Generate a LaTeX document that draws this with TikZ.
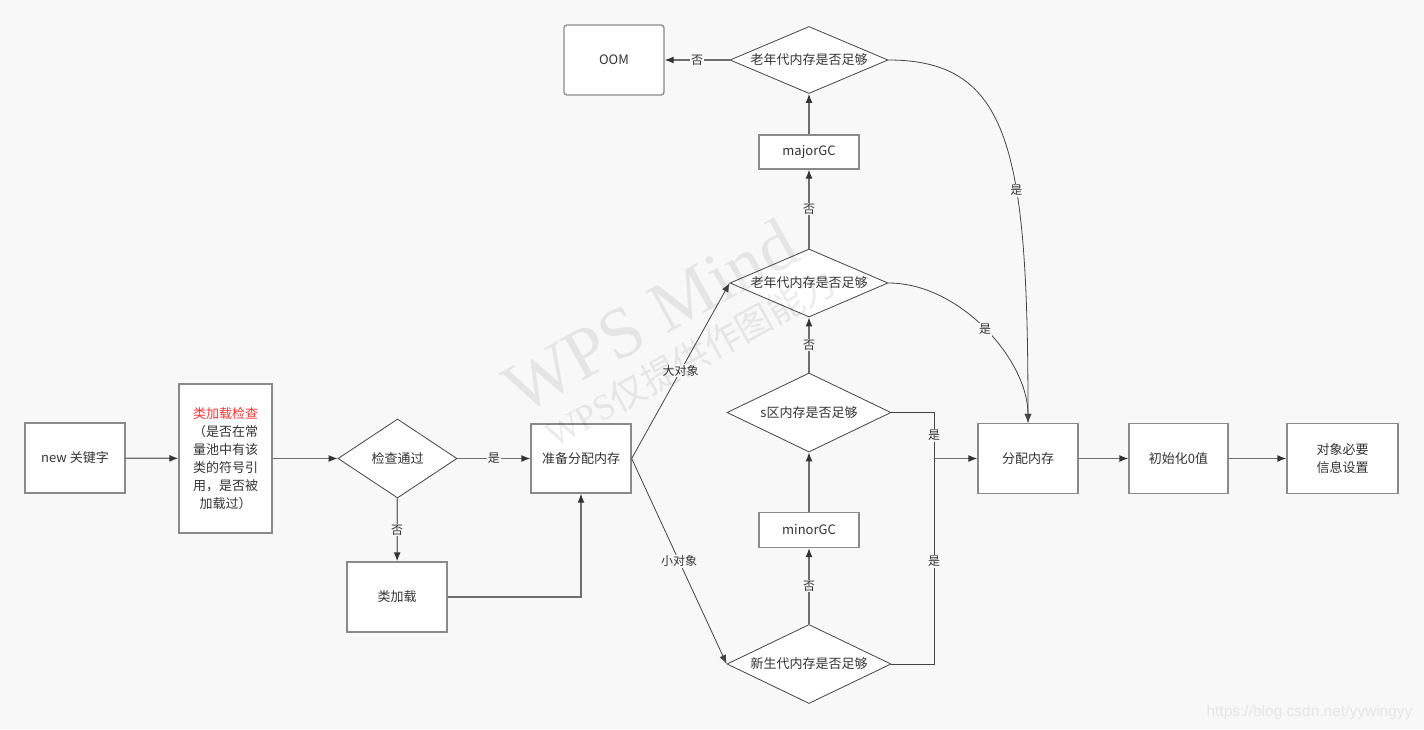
\documentclass[tikz,border=0pt]{standalone}
\usepackage{fontspec}
\setmainfont{Noto Sans CJK SC}
\newfontfamily\wmserif{Liberation Serif}
\newfontfamily\urlfont{Liberation Sans}
\usetikzlibrary{arrows.meta,shapes.geometric}
\definecolor{bg}{HTML}{F8F8F8}
\definecolor{boxline}{HTML}{8A8A8A}
\definecolor{dialine}{HTML}{444444}
\definecolor{txt}{HTML}{333333}
\definecolor{conncol}{HTML}{6E6E6E}
\definecolor{redtxt}{HTML}{FF3333}
\definecolor{wm}{HTML}{E6E6E6}
\tikzset{
  x=1pt, y=-1pt,
  every node/.style={text=txt, font=\fontsize{13}{18}\selectfont},
  box/.style={draw=boxline, line width=1.3pt, fill=white, inner sep=2pt, align=center},
  dia/.style={diamond, draw=dialine, line width=0.8pt, fill=white, inner sep=0pt, shape aspect=2.2},
  conn/.style={draw=conncol, line width=1.3pt, arrows={-{Latex[length=9pt,width=7pt,color=txt]}}},
  thinc/.style={draw=dialine, line width=0.8pt, -{Latex[length=9pt,width=7pt]}},
  thinl/.style={draw=dialine, line width=0.8pt},
  lbl/.style={fill=bg, inner sep=1pt, font=\fontsize{12}{14}\selectfont},
  wmark/.style={rotate=29, text=black, text opacity=0.075}
}
\begin{document}
\begin{tikzpicture}
\fill[bg] (0,0) rectangle (1424,729);
\useasboundingbox (0,0) rectangle (1424,729);
\node[text=wm, font=\urlfont\fontsize{15.5}{18}\selectfont, anchor=east] (url) at (1416,712) {https://blog.csdn.net/yywingyy};

% boxes
\node[box, minimum width=100pt, minimum height=70pt] (new) at (75,458) {new 关键字};
\node[box, minimum width=93pt, minimum height=149pt] (clc) at (225.5,458.5) {\textcolor{redtxt}{类加载检查}\\（是否在常\\量池中有该\\类的符号引\\用，是否被\\加载过）};
\node[dia, minimum width=119pt, minimum height=79pt] (chk) at (397.5,458.5) {检查通过};
\node[box, minimum width=100pt, minimum height=69pt] (prep) at (581,458.5) {准备分配内存};
\node[box, minimum width=100pt, minimum height=70pt] (cl) at (397,597) {类加载};
\node[box, rounded corners=3pt, minimum width=100pt, minimum height=70pt] (oom) at (614,60) {OOM};
\node[dia, minimum width=158pt, minimum height=67pt] (old1) at (809,60) {老年代内存是否足够};
\node[box, minimum width=100pt, minimum height=34pt] (major) at (809,152) {majorGC};
\node[dia, minimum width=158pt, minimum height=68pt] (old2) at (809,283) {老年代内存是否足够};
\node[dia, minimum width=164pt, minimum height=79pt] (sq) at (809,412.5) {s区内存是否足够};
\node[box, minimum width=100pt, minimum height=35pt] (minor) at (809,530) {minorGC};
\node[dia, minimum width=164pt, minimum height=79pt] (young) at (809,664) {新生代内存是否足够};
\node[box, minimum width=100pt, minimum height=70pt] (alloc) at (1028,458.5) {分配内存};
\node[box, minimum width=99pt, minimum height=70pt] (init) at (1178.5,458.5) {初始化0值};
\node[box, minimum width=111pt, minimum height=70pt] (obj) at (1342.5,458.5) {对象必要\\信息设置};
\coordinate (j) at (934,458.5);

% connectors
\draw[conn] (new) -- (clc);
\draw[conn] (clc) -- (chk);
\draw[conn] (chk) -- node[lbl]{是} (prep);
\draw[conn] (chk) -- node[lbl]{否} (cl);
\draw[conn] (cl.east) -| (prep.south);
\draw[thinc] (prep.east) -- node[lbl]{大对象} (old2.west);
\draw[thinc] (prep.east) -- node[lbl]{小对象} (young.west);
\draw[conn] (young.north) -- node[lbl]{否} (minor.south);
\draw[conn] (minor) -- (sq);
\draw[conn] (sq.north) -- node[lbl]{否} (old2.south);
\draw[conn] (old2.north) -- node[lbl]{否} (major.south);
\draw[conn] (major) -- (old1);
\draw[conn] (old1.west) -- node[lbl]{否} (oom.east);
\draw[thinc] (old1.east) .. controls (1010,60) and (1028,150) .. node[lbl,pos=0.63]{是} (alloc.north);
\draw[thinc] (old2.east) .. controls (960,283) and (1028,360) .. node[lbl]{是} (alloc.north);
\draw[thinl] (sq.east) -| node[lbl,pos=0.75]{是} (j);
\draw[thinl] (young.east) -| node[lbl,pos=0.75]{是} (j);
\draw[conn] (j) -- (alloc);
\draw[conn] (alloc) -- (init);
\draw[conn] (init) -- (obj);

% watermark (drawn over the diagram, as in the reference)
\node[wmark, font=\wmserif\fontsize{72}{76}\selectfont] (wm1) at (650,316) {WPS Mind};
\node[wmark, font=\fontsize{36}{40}\selectfont] (wm2) at (690,358) {{\wmserif WPS}仅提供作图能力};
\end{tikzpicture}
\end{document}
